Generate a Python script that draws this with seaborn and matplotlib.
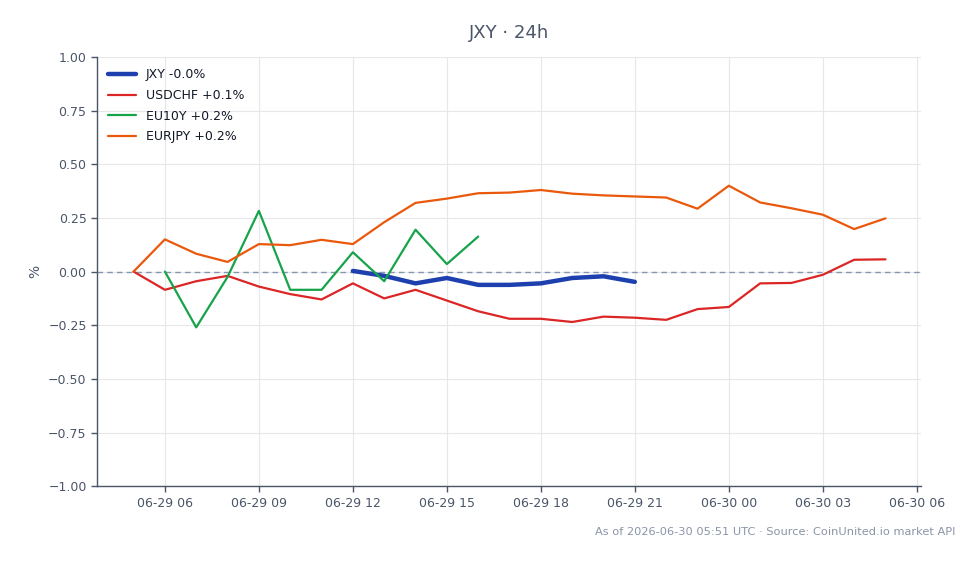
import pandas as pd
import numpy as np
import matplotlib
matplotlib.use("Agg")
import matplotlib.pyplot as plt
import matplotlib.dates as mdates
import seaborn as sns

# hourly % change series
usdchf_start = "2026-06-29 05:00"
usdchf = [0.0, -0.085, -0.045, -0.02, -0.07, -0.105, -0.13, -0.055, -0.125, -0.085,
          -0.135, -0.185, -0.22, -0.22, -0.235, -0.21, -0.215, -0.225, -0.175, -0.165,
          -0.055, -0.053, -0.015, 0.055, 0.057]
eurjpy_start = "2026-06-29 05:00"
eurjpy = [0.0, 0.15, 0.083, 0.045, 0.128, 0.123, 0.148, 0.128, 0.23, 0.32,
          0.34, 0.365, 0.368, 0.38, 0.363, 0.355, 0.35, 0.345, 0.293, 0.40,
          0.322, 0.295, 0.265, 0.198, 0.248]
eu10y_start = "2026-06-29 06:00"
eu10y = [0.0, -0.26, -0.025, 0.283, -0.085, -0.085, 0.09, -0.045, 0.195, 0.035, 0.163]
jxy_start = "2026-06-29 12:00"
jxy = [0.003, -0.02, -0.055, -0.03, -0.062, -0.062, -0.055, -0.03, -0.022, -0.048]

labels = ["JXY -0.0%", "USDCHF +0.1%", "EU10Y +0.2%", "EURJPY +0.2%"]
colors = ["#1e40af", "#dc2626", "#16a34a", "#ea580c"]
widths = [3.2, 1.6, 1.6, 1.6]
series = [(jxy_start, jxy), (usdchf_start, usdchf), (eu10y_start, eu10y), (eurjpy_start, eurjpy)]

sns.set_style("whitegrid")
plt.rcParams['font.family'] = ['DejaVu Sans']

fig = plt.figure(figsize=(9.78, 5.64), dpi=100)
ax = fig.add_axes([0.0992, 0.138, 0.8425, 0.761])

for (start, vals), lab, col, lw in zip(series, labels, colors, widths):
    df = pd.DataFrame({"time": pd.date_range(start, periods=len(vals), freq="h"), "pct": vals})
    sns.lineplot(data=df, x="time", y="pct", ax=ax, color=col, linewidth=lw, label=lab)

ax.axhline(0, color="#8796b0", linestyle=(0, (4, 3)), linewidth=1, zorder=1.5)

ax.set_xlim(pd.Timestamp("2026-06-29 03:50"), pd.Timestamp("2026-06-30 06:08"))
ax.set_ylim(-1, 1)
ax.set_yticks(np.arange(-1, 1.01, 0.25))
ax.yaxis.set_major_formatter(matplotlib.ticker.FuncFormatter(
    lambda v, p: f"{v:.2f}".replace("-", "\u2212") if abs(v) > 1e-9 else "0.00"))
ax.xaxis.set_major_locator(mdates.HourLocator(byhour=[0, 3, 6, 9, 12, 15, 18, 21]))
ax.xaxis.set_major_formatter(mdates.DateFormatter("%m-%d %H"))

ax.grid(True, color="#e5e7eb", linewidth=0.8)
for s in ["top", "right"]:
    ax.spines[s].set_visible(False)
for s in ["left", "bottom"]:
    ax.spines[s].set_color("#4a5568")
    ax.spines[s].set_linewidth(1)
ax.tick_params(axis="both", colors="#4a5568", labelsize=9, length=4, width=1, bottom=True, left=True)
ax.set_xlabel("")
ax.set_ylabel("%", color="#4a5568", fontsize=10)
ax.set_title("JXY · 24h", color="#4a5568", fontsize=13, pad=14)

leg = ax.legend(loc="upper left", frameon=False, fontsize=9, handlelength=2.2, labelspacing=0.62)
for t in leg.get_texts():
    t.set_color("#111827")

fig.text(0.977, 0.047, "As of 2026-06-30 05:51 UTC · Source: CoinUnited.io market API",
         ha="right", va="bottom", fontsize=8.2, color="#8a94a6")

fig.savefig("out.png", dpi=100)
